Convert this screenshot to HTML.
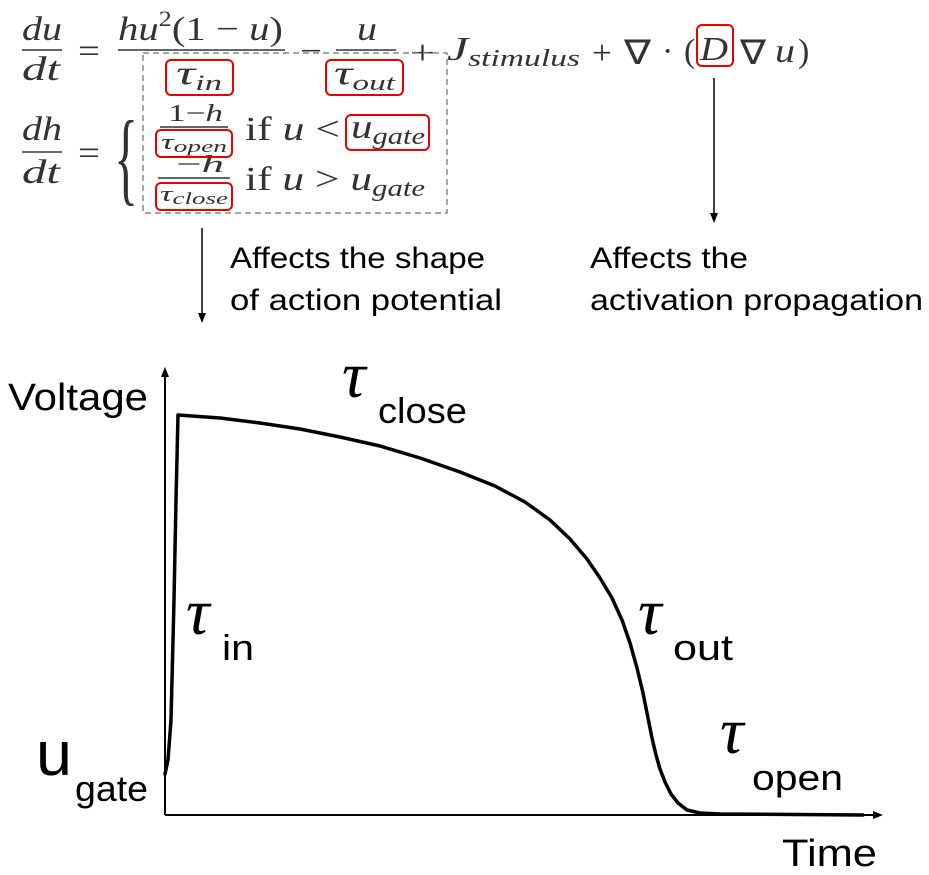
<!DOCTYPE html>
<html><head><meta charset="utf-8"><style>
html,body{margin:0;padding:0;background:#fff;}
svg{display:block;}
.m{font-family:"Liberation Serif",serif;fill:#333;}
.i{font-style:italic;}
.s{font-family:"Liberation Sans",sans-serif;fill:#000;}
.t{font-family:"Liberation Serif",serif;font-style:italic;fill:#000;}
</style></head><body>
<svg width="929" height="875" viewBox="0 0 929 875" xmlns="http://www.w3.org/2000/svg">
<defs>
<marker id="a" markerWidth="10" markerHeight="10" refX="5" refY="5" orient="auto" markerUnits="userSpaceOnUse"><path d="M0,1 L10,5 L0,9 z" fill="#000"/></marker>
</defs>
<g class="m" font-size="34">
<text x="22" y="40" class="i" textLength="40" lengthAdjust="spacingAndGlyphs">du</text>
<line x1="22" y1="50" x2="62" y2="50" stroke="#333" stroke-width="1.5"/>
<text x="22" y="80" class="i" textLength="38" lengthAdjust="spacingAndGlyphs">dt</text>
<text x="78" y="62" textLength="22" lengthAdjust="spacingAndGlyphs">=</text>
<text x="118" y="40" textLength="165" lengthAdjust="spacingAndGlyphs"><tspan class="i">hu</tspan><tspan font-size="22" dy="-14">2</tspan><tspan dy="14">(1 − </tspan><tspan class="i">u</tspan>)</text>
<line x1="118" y1="50" x2="285" y2="50" stroke="#333" stroke-width="1.5"/>
<text x="176" y="84" class="i" textLength="46" lengthAdjust="spacingAndGlyphs">τ<tspan font-size="22" dy="6">in</tspan></text>
<text x="300" y="62" textLength="22" lengthAdjust="spacingAndGlyphs">−</text>
<text x="357" y="40" class="i" textLength="20" lengthAdjust="spacingAndGlyphs">u</text>
<line x1="336" y1="50" x2="396" y2="50" stroke="#333" stroke-width="1.5"/>
<text x="334" y="84" class="i" textLength="61" lengthAdjust="spacingAndGlyphs">τ<tspan font-size="22" dy="6">out</tspan></text>
<text x="410" y="64" textLength="25" lengthAdjust="spacingAndGlyphs">+</text>
<text x="447" y="60" class="i" textLength="133" lengthAdjust="spacingAndGlyphs">J<tspan font-size="24" dy="6">stimulus</tspan></text>
<text x="592" y="64" textLength="20" lengthAdjust="spacingAndGlyphs">+</text>
<text x="624" y="64" textLength="27" lengthAdjust="spacingAndGlyphs">∇</text>
<text x="662" y="62">·</text>
<text x="684" y="62">(</text>
<text x="700" y="60" class="i" textLength="28" lengthAdjust="spacingAndGlyphs">D</text>
<text x="740" y="64" textLength="26" lengthAdjust="spacingAndGlyphs">∇</text>
<text x="775" y="62" class="i" textLength="20" lengthAdjust="spacingAndGlyphs">u</text>
<text x="798" y="62">)</text>
</g>
<rect x="143" y="53" width="304" height="160" fill="none" stroke="#888" stroke-width="1.5" stroke-dasharray="6,4"/>
<rect x="166" y="60" width="67" height="35" rx="5" fill="none" stroke="#e00" stroke-width="2"/>
<rect x="326" y="60" width="77" height="35" rx="5" fill="none" stroke="#e00" stroke-width="2"/>
<rect x="697" y="25" width="36" height="41" rx="5" fill="none" stroke="#e00" stroke-width="2"/>
<g class="m" font-size="34">
<text x="22" y="140" class="i" textLength="40" lengthAdjust="spacingAndGlyphs">dh</text>
<line x1="22" y1="152" x2="62" y2="152" stroke="#333" stroke-width="1.5"/>
<text x="22" y="183" class="i" textLength="38" lengthAdjust="spacingAndGlyphs">dt</text>
<text x="78" y="164" textLength="22" lengthAdjust="spacingAndGlyphs">=</text>
<text x="114" y="192" font-size="104" textLength="24" lengthAdjust="spacingAndGlyphs">{</text>
<text x="168" y="121" font-size="24" textLength="55" lengthAdjust="spacingAndGlyphs">1−<tspan class="i">h</tspan></text>
<line x1="160" y1="127" x2="228" y2="127" stroke="#333" stroke-width="1.5"/>
<text x="161" y="149" font-size="22" class="i" textLength="66" lengthAdjust="spacingAndGlyphs">τ<tspan font-size="17" dy="3">open</tspan></text>
<text x="245" y="140" textLength="95" lengthAdjust="spacingAndGlyphs">if <tspan class="i">u</tspan> &lt;</text>
<text x="351" y="138" class="i" textLength="74" lengthAdjust="spacingAndGlyphs">u<tspan font-size="24" dy="6">gate</tspan></text>
<text x="176" y="172" font-size="24" textLength="48" lengthAdjust="spacingAndGlyphs">−<tspan class="i">h</tspan></text>
<line x1="158" y1="178" x2="230" y2="178" stroke="#333" stroke-width="1.5"/>
<text x="160" y="201" font-size="22" class="i" textLength="68" lengthAdjust="spacingAndGlyphs">τ<tspan font-size="17" dy="3">close</tspan></text>
<text x="245" y="190" textLength="180" lengthAdjust="spacingAndGlyphs">if <tspan class="i">u</tspan> &gt; <tspan class="i">u</tspan><tspan class="i" font-size="24" dy="6">gate</tspan></text>
</g>
<rect x="156" y="130" width="76" height="27" rx="5" fill="none" stroke="#e00" stroke-width="2"/>
<rect x="346" y="115" width="83" height="35" rx="5" fill="none" stroke="#e00" stroke-width="2"/>
<rect x="156" y="183" width="76" height="27" rx="5" fill="none" stroke="#e00" stroke-width="2"/>
<line x1="202" y1="228" x2="202" y2="318" stroke="#000" stroke-width="1.5" marker-end="url(#a)"/>
<line x1="714" y1="78" x2="714" y2="218" stroke="#000" stroke-width="1.5" marker-end="url(#a)"/>
<g class="s" font-size="30">
<text x="230" y="268" textLength="255" lengthAdjust="spacingAndGlyphs">Affects the shape</text>
<text x="230" y="310" textLength="272" lengthAdjust="spacingAndGlyphs">of action potential</text>
<text x="590" y="268" textLength="158" lengthAdjust="spacingAndGlyphs">Affects the</text>
<text x="590" y="310" textLength="333" lengthAdjust="spacingAndGlyphs">activation propagation</text>
</g>
<line x1="165" y1="815" x2="165" y2="372" stroke="#000" stroke-width="2" marker-end="url(#a)"/>
<line x1="165" y1="815" x2="878" y2="815" stroke="#000" stroke-width="2" marker-end="url(#a)"/>
<polyline points="165,774 168,760 171,720 174,600 176,500 178,415 220,418 260,423 300,429 340,437 380,446 420,458 460,472 495,486 525,502 550,520 570,539 587,559 600,578 612,598 622,620 630,643 637,668 643,693 648,718 652,738 656,755 660,769 665,782 671,794 678,803 687,810 700,813 720,814 863,815" fill="none" stroke="#000" stroke-width="3.5" stroke-linejoin="round" stroke-linecap="round"/>
<g class="s">
<text x="8" y="410" font-size="38" textLength="140" lengthAdjust="spacingAndGlyphs">Voltage</text>
<text x="342" y="397" font-size="66" class="t">τ</text>
<text x="378" y="423" font-size="36" textLength="89" lengthAdjust="spacingAndGlyphs">close</text>
<text x="186" y="634" font-size="66" class="t">τ</text>
<text x="222" y="660" font-size="36" textLength="32" lengthAdjust="spacingAndGlyphs">in</text>
<text x="638" y="634" font-size="66" class="t">τ</text>
<text x="673" y="660" font-size="36" textLength="60" lengthAdjust="spacingAndGlyphs">out</text>
<text x="36" y="775" font-size="62" textLength="36" lengthAdjust="spacingAndGlyphs">u</text>
<text x="75" y="801" font-size="36" textLength="73" lengthAdjust="spacingAndGlyphs">gate</text>
<text x="720" y="753" font-size="66" class="t">τ</text>
<text x="752" y="790" font-size="36" textLength="91" lengthAdjust="spacingAndGlyphs">open</text>
<text x="782" y="866" font-size="38" textLength="95" lengthAdjust="spacingAndGlyphs">Time</text>
</g>
</svg>
</body></html>
